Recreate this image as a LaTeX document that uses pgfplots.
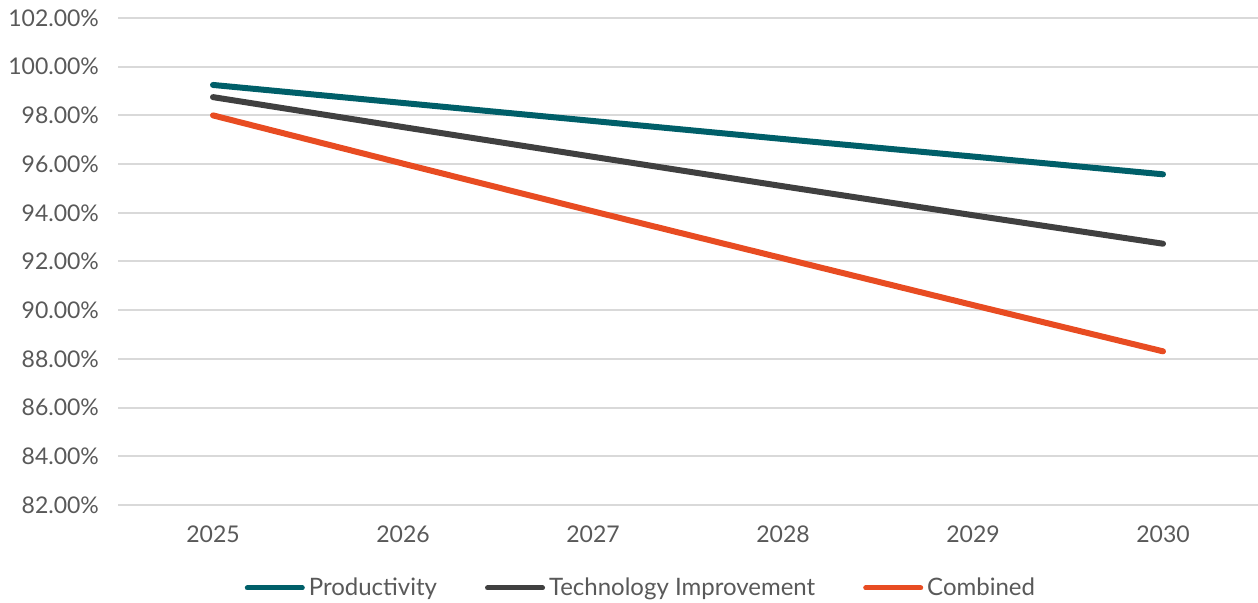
\documentclass[border=0pt]{standalone}
\usepackage{fontspec}
\setmainfont{Lato}
\usepackage{pgfplots}
\pgfplotsset{compat=1.18}
\definecolor{tealc}{RGB}{0,95,105}
\definecolor{darkc}{RGB}{64,64,64}
\definecolor{orangec}{RGB}{232,76,34}
\definecolor{gridc}{RGB}{217,217,217}
\definecolor{textc}{RGB}{89,89,89}
\begin{document}
\begin{tikzpicture}
\useasboundingbox (0,0) rectangle (629pt,301.5pt);
\begin{axis}[
  at={(59pt,49pt)}, anchor=south west,
  scale only axis, width=570pt, height=243.5pt,
  xmin=-0.5, xmax=5.5, ymin=82, ymax=102,
  xtick={0,1,2,3,4,5},
  xticklabels={2025,2026,2027,2028,2029,2030},
  ytick={82,84,...,102},
  yticklabels={82.00\%,84.00\%,86.00\%,88.00\%,90.00\%,92.00\%,94.00\%,96.00\%,98.00\%,100.00\%,102.00\%},
  axis line style={draw=none},
  major tick length=0pt,
  ymajorgrids, grid style={gridc, line width=1pt},
  tick label style={font=\fontsize{11.5pt}{13pt}\selectfont, text=textc},
  yticklabel style={xshift=-6pt},
  xticklabel style={yshift=-7pt},
  clip=false,
  legend style={at={(0.4596,-0.1704)}, anchor=center, draw=none, fill=none,
    legend columns=-1, font=\fontsize{12pt}{14pt}\selectfont, text=textc,
    /tikz/every even column/.append style={column sep=22pt},
    inner sep=0pt},
  legend cell align=left,
  legend image code/.code={\draw[#1, line width=2.5pt] (0pt,0pt) -- (27.5pt,0pt);},
  every axis plot/.append style={line width=3pt, line cap=round, line join=round},
]
\addplot[tealc] coordinates {(0,99.25) (1,98.51) (2,97.77) (3,97.03) (4,96.31) (5,95.58)};
\addlegendentry{Productivity}
\addplot[darkc] coordinates {(0,98.75) (1,97.52) (2,96.30) (3,95.09) (4,93.90) (5,92.73)};
\addlegendentry{Technology Improvement}
\addplot[orangec] coordinates {(0,98.00) (1,96.02) (2,94.06) (3,92.13) (4,90.21) (5,88.31)};
\addlegendentry{Combined}
\end{axis}
\end{tikzpicture}
\end{document}
